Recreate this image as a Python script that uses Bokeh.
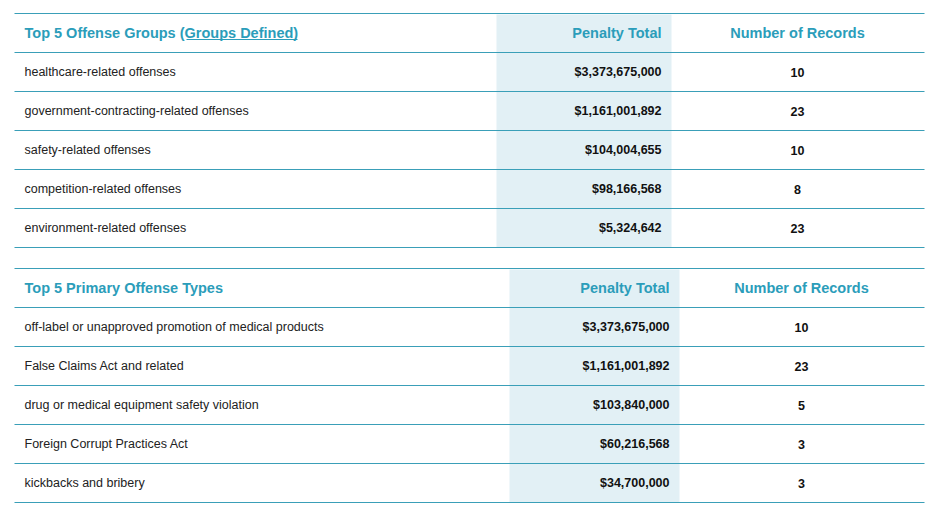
from bokeh.plotting import figure
from bokeh.models import ColumnDataSource, Range1d
from bokeh.core.properties import value
from bokeh.embed import file_html
from bokeh.resources import INLINE

# ---- data ----
group_title = "Top 5 Offense Groups (Groups Defined)"
group_names = ["healthcare-related offenses",
               "government-contracting-related offenses",
               "safety-related offenses",
               "competition-related offenses",
               "environment-related offenses"]
group_penalties = [3373675000, 1161001892, 104004655, 98166568, 5324642]
group_records = [10, 23, 10, 8, 23]

type_title = "Top 5 Primary Offense Types"
type_names = ["off-label or unapproved promotion of medical products",
              "False Claims Act and related",
              "drug or medical equipment safety violation",
              "Foreign Corrupt Practices Act",
              "kickbacks and bribery"]
type_penalties = [3373675000, 1161001892, 103840000, 60216568, 34700000]
type_records = [10, 23, 5, 3, 3]

col_headers = ["Penalty Total", "Number of Records"]

# ---- style / layout ----
TEAL_TEXT = "#2b9dba"
TEAL_LINE = "#3a9fb8"
SHADE = "#e2f0f5"
FONT = value("Liberation Sans")
HEAD_SIZE = "14.5px"
BODY_SIZE = "12.5px"

p = figure(width=925, height=506, output_backend="svg", toolbar_location=None,
           x_range=Range1d(0, 925), y_range=Range1d(506, 0),
           min_border=0)
p.axis.visible = False
p.grid.visible = False
p.outline_line_color = None
p.background_fill_color = "white"


def draw_table(top, title, names, penalties, records, shade_l, shade_r, num_x, rec_x, underline=None):
    row_h = 39
    n = len(names)
    # shaded column
    p.quad(left=[shade_l], right=[shade_r], top=[top + 1], bottom=[top + row_h * (n + 1)],
           fill_color=SHADE, line_color=None)
    # horizontal rules
    ys = [top + row_h * i for i in range(n + 2)]
    p.segment(x0=[14] * len(ys), x1=[924] * len(ys), y0=ys, y1=ys,
              line_color=TEAL_LINE, line_width=1.2)
    # header
    hy = top + row_h / 2
    p.text(x=[24], y=[hy], text=[title], text_font=FONT, text_font_size=HEAD_SIZE,
           text_font_style="bold", text_color=TEAL_TEXT, text_baseline="middle", text_align="left")
    p.text(x=[num_x], y=[hy], text=[col_headers[0]], text_font=FONT, text_font_size=HEAD_SIZE,
           text_font_style="bold", text_color=TEAL_TEXT, text_baseline="middle", text_align="right")
    p.text(x=[rec_x], y=[hy], text=[col_headers[1]], text_font=FONT, text_font_size=HEAD_SIZE,
           text_font_style="bold", text_color=TEAL_TEXT, text_baseline="middle", text_align="center")
    if underline:
        p.segment(x0=[underline[0]], x1=[underline[1]], y0=[hy + 6.5], y1=[hy + 6.5],
                  line_color=TEAL_TEXT, line_width=1)
    # rows
    row_y = [top + row_h * (i + 1) + row_h / 2 for i in range(n)]
    src = ColumnDataSource(dict(
        y=row_y,
        name=names,
        pen=["${:,}".format(v) for v in penalties],
        rec=[str(r) for r in records],
        xn=[24] * n, xp=[num_x] * n, xr=[rec_x] * n,
    ))
    p.text(x="xn", y="y", text="name", source=src, text_font=FONT, text_font_size=BODY_SIZE,
           text_color="#222222", text_baseline="middle", text_align="left")
    p.text(x="xp", y="y", text="pen", source=src, text_font=FONT, text_font_size=BODY_SIZE,
           text_font_style="bold", text_color="#111111", text_baseline="middle", text_align="right")
    p.text(x="xr", y="y", text="rec", source=src, text_font=FONT, text_font_size=BODY_SIZE,
           text_font_style="bold", text_color="#111111", text_baseline="middle", text_align="center")


draw_table(13, group_title, group_names, group_penalties, group_records,
           496, 671, 661, 797, underline=(186, 297))
draw_table(268, type_title, type_names, type_penalties, type_records,
           509, 679, 669, 801)

open("out.html", "w").write(file_html(p, INLINE))
